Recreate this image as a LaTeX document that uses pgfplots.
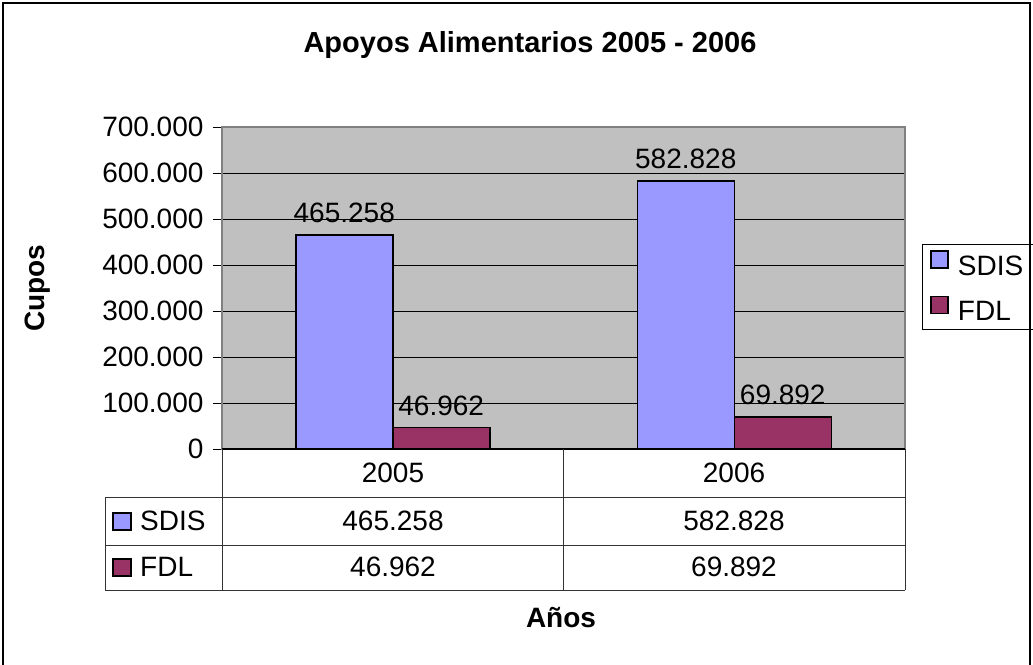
\documentclass[border=0pt]{standalone}
\usepackage{pgfplots}
\pgfplotsset{compat=1.18}
\usepackage{fontspec}
\setmainfont{Liberation Sans}
\definecolor{sdis}{HTML}{9999FF}
\definecolor{fdl}{HTML}{993366}
\definecolor{plotbg}{HTML}{C0C0C0}
\definecolor{axgray}{HTML}{808080}
\pgfplotsset{/pgf/number format/.cd, fixed, 1000 sep={.}}
\newcommand{\fs}{\fontsize{28}{30}\selectfont}
\begin{document}
\begin{tikzpicture}
\useasboundingbox (0pt,0pt) rectangle (1033pt,-664pt);
\begin{axis}[
  at={(222pt,-449pt)}, anchor=south west,
  scale only axis, width=683pt, height=322pt,
  xmin=-0.5, xmax=1.5, ymin=0, ymax=700000,
  ybar=0pt, bar width=97pt,
  axis background/.style={fill=plotbg},
  axis line style={draw=axgray, line width=1.5pt},
  xtick=\empty,
  ytick={0,100000,200000,300000,400000,500000,600000,700000},
  ytick pos=left,
  scaled y ticks=false,
  tick align=outside, major tick length=9pt,
  ytick style={black, line width=1pt},
  ymajorgrids, grid style={black, line width=1pt},
  yticklabel style={font=\fs, xshift=-6pt, /pgf/number format/fixed, /pgf/number format/1000 sep={.}},
  /pgf/number format/assume math mode=true,
  ylabel={\bfseries Cupos},
  ylabel style={font=\fs, at={(axis description cs:-0.27,0.5)}, anchor=center},
  nodes near coords,
  every node near coord/.append style={font=\fs, black, yshift=8pt},
  legend style={at={(1.025,0.637)}, anchor=north west, draw=black, line width=0.8pt,
    font=\fs, inner xsep=8pt, inner ysep=6pt, row sep=17pt,
    legend cell align=left},
]
\addplot[fill=sdis, draw=black, line width=1.5pt,
  legend image code/.code={\draw[fill=sdis,draw=black,line width=1.5pt] (0pt,-2pt) rectangle (17pt,15pt); \path (24pt,0pt);}]
  coordinates {(0,465258) (1,582828)};
\addplot[fill=fdl, draw=black, line width=1.5pt,
  legend image code/.code={\draw[fill=fdl,draw=black,line width=1.5pt] (0pt,-2pt) rectangle (17pt,15pt); \path (24pt,0pt);}]
  coordinates {(0,46962) (1,69892)};
\legend{SDIS,FDL}
\draw[black, line width=1.5pt] (rel axis cs:0,0) -- (rel axis cs:1,0);
\end{axis}
\begin{scope}[x=1pt,y=1pt]
\begin{scope}
\clip (0,0) rectangle (1033,-664);
\draw[line width=2.5pt] (3,-3) rectangle (1030,-690);
\end{scope}
\node[font=\fontsize{29}{30}\selectfont\bfseries] at (530,-45) {Apoyos Alimentarios 2005 - 2006};
% data table
\begin{scope}[line width=1pt, draw=black!80]
\draw (222,-449) -- (222,-590);
\draw (563.5,-449) -- (563.5,-590);
\draw (905,-449) -- (905,-590);
\draw (105,-497) -- (905,-497);
\draw (105,-545) -- (905,-545);
\draw (105,-590) -- (905,-590);
\draw (105,-497) -- (105,-590);
\end{scope}
\node[font=\fs] at (393,-473) {2005};
\node[font=\fs] at (734,-473) {2006};
\draw[fill=sdis, line width=1.5pt] (113,-513) rectangle (131,-530);
\draw[fill=fdl, line width=1.5pt] (113,-559) rectangle (131,-576);
\node[font=\fs, anchor=west, inner sep=0pt] at (140,-521) {SDIS};
\node[font=\fs, anchor=west, inner sep=0pt] at (140,-567) {FDL};
\node[font=\fs] at (393,-521) {465.258};
\node[font=\fs] at (734,-521) {582.828};
\node[font=\fs] at (393,-567) {46.962};
\node[font=\fs] at (734,-567) {69.892};
\node[font=\fontsize{28}{30}\selectfont\bfseries] at (561,-618) {Años};
\end{scope}
\end{tikzpicture}
\end{document}
